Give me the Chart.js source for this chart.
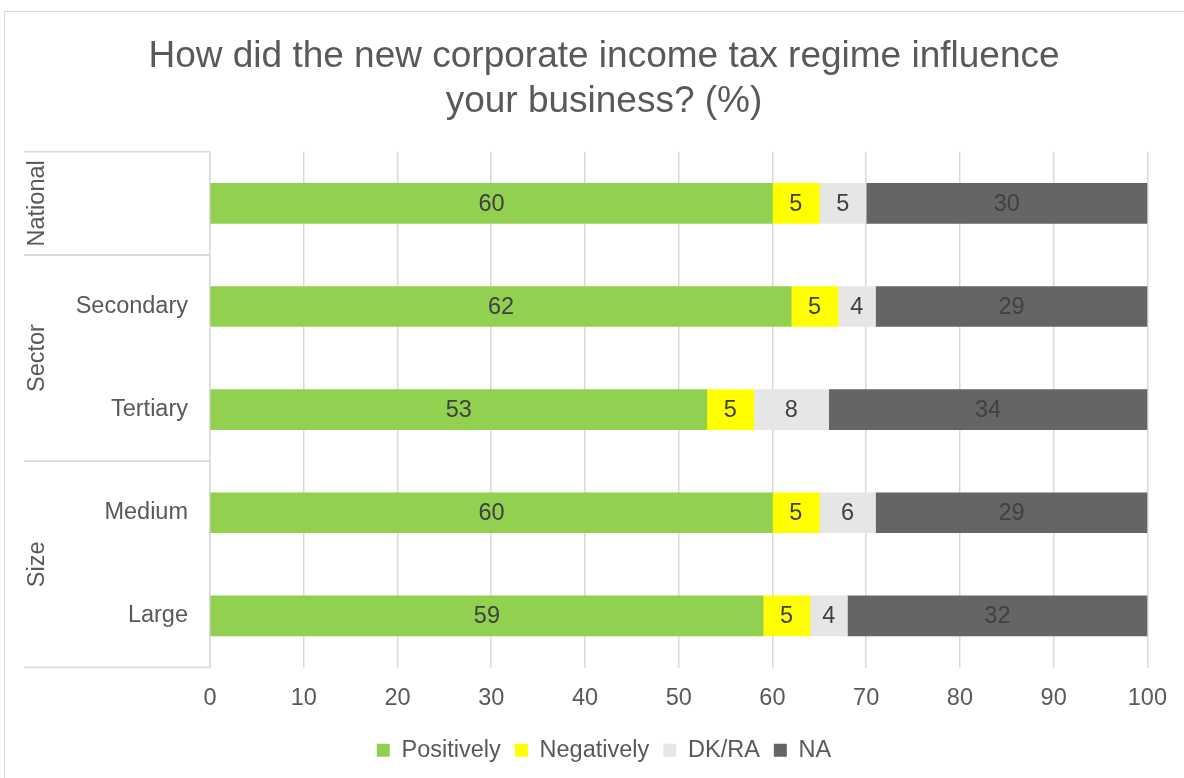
<!DOCTYPE html>
<html lang="en">
<head>
  <meta charset="UTF-8">
  <title>Corporate income tax regime</title>
  <style>
    body {
      margin: 0;
      background-color: #fff;
      overflow: hidden;
    }

    .frame {
      position: absolute;
      left: 4px;
      top: 11px;
      width: 1200px;
      height: 800px;
      border: 1px solid #d9d9d9;
    }

    .wrap {
      position: absolute;
      left: 0;
      top: 0;
      width: 1184px;
      height: 778px;
    }
  </style>
</head>
<body>
  <div class="frame"></div>
  <div class="wrap">
    <canvas id="myChart" width="1184" height="778"></canvas>
  </div>
  <script src="https://cdn.jsdelivr.net/npm/chart.js"></script>
  <script>
    var groups = ['National', 'Sector', 'Sector', 'Size', 'Size'];
    var categories = ['', 'Secondary', 'Tertiary', 'Medium', 'Large'];
    var positively = [60, 62, 53, 60, 59];
    var negatively = [5, 5, 5, 5, 5];
    var dkra = [5, 4, 8, 6, 4];
    var na = [30, 29, 34, 29, 32];
    var xTicks = [0, 10, 20, 30, 40, 50, 60, 70, 80, 90, 100];

    var fontFamily = '"Liberation Sans", Arial, sans-serif';
    var textColor = '#595959';
    var lineColor = '#d9d9d9';
    var groupColumnLeft = 24;

    // values written in the middle of every segment
    var segmentLabels = {
      id: 'segmentLabels',
      afterDatasetsDraw: function(chart) {
        var ctx = chart.ctx;
        ctx.save();
        ctx.font = '23.5px ' + fontFamily;
        ctx.fillStyle = '#404040';
        ctx.textAlign = 'center';
        ctx.textBaseline = 'middle';
        chart.data.datasets.forEach(function(ds, i) {
          chart.getDatasetMeta(i).data.forEach(function(bar, j) {
            ctx.fillText(ds.data[j], (bar.x + bar.base) / 2, bar.y + 1);
          });
        });
        ctx.restore();
      }
    };

    // outer level of the category axis: group names and separators
    var groupAxis = {
      id: 'groupAxis',
      afterDraw: function(chart) {
        var ctx = chart.ctx;
        var y = chart.scales.y;
        var step = (y.bottom - y.top) / categories.length;
        var left = groupColumnLeft;
        var right = chart.chartArea.left;
        ctx.save();
        ctx.strokeStyle = lineColor;
        ctx.lineWidth = 1.5;
        ctx.font = '23.5px ' + fontFamily;
        ctx.fillStyle = textColor;
        ctx.textAlign = 'center';
        ctx.textBaseline = 'middle';

        var start = 0;
        for (var i = 1; i <= groups.length; i++) {
          if (i === groups.length || groups[i] !== groups[start]) {
            var top = y.top + start * step;
            var bottom = y.top + i * step;
            ctx.beginPath();
            ctx.moveTo(left, top);
            ctx.lineTo(right, top);
            ctx.moveTo(left, bottom);
            ctx.lineTo(right, bottom);
            ctx.stroke();

            ctx.save();
            ctx.translate(left + 14, (top + bottom) / 2);
            ctx.rotate(-Math.PI / 2);
            ctx.fillText(groups[start], 0, 0);
            ctx.restore();
            start = i;
          }
        }
        ctx.restore();
      }
    };

    var ctx = document.getElementById('myChart').getContext('2d');
    var myChart = new Chart(ctx, {
      type: 'bar',
      data: {
        labels: categories,
        datasets: [{
          label: 'Positively',
          data: positively,
          backgroundColor: '#92d050'
        }, {
          label: 'Negatively',
          data: negatively,
          backgroundColor: '#ffff00'
        }, {
          label: 'DK/RA',
          data: dkra,
          backgroundColor: '#e7e6e6'
        }, {
          label: 'NA',
          data: na,
          backgroundColor: '#656565'
        }]
      },
      options: {
        indexAxis: 'y',
        responsive: false,
        animation: false,
        events: [],
        barThickness: 40,
        layout: {
          padding: { left: 60, right: 36, top: 0, bottom: 6 }
        },
        scales: {
          x: {
            stacked: true,
            min: 0,
            max: 100,
            afterBuildTicks: function(scale) {
              scale.ticks = xTicks.map(function(v) { return { value: v }; });
            },
            afterFit: function(scale) {
              scale.height = 57;
            },
            grid: { color: lineColor, lineWidth: 1.5, drawTicks: false },
            border: { display: false },
            ticks: {
              padding: 17,
              color: textColor,
              font: { family: fontFamily, size: 23.5 }
            }
          },
          y: {
            stacked: true,
            afterFit: function(scale) {
              scale.width = 150;
            },
            grid: { display: false, drawTicks: false },
            border: { display: true, color: lineColor, width: 1.5 },
            ticks: {
              padding: 22,
              color: textColor,
              font: { family: fontFamily, size: 23.5 }
            }
          }
        },
        plugins: {
          title: {
            display: true,
            text: ['How did the new corporate income tax regime influence', 'your business? (%)'],
            color: textColor,
            font: { family: fontFamily, size: 37, weight: 'normal', lineHeight: 1.2 },
            padding: { top: 35, bottom: 28 }
          },
          legend: {
            position: 'bottom',
            labels: {
              boxWidth: 13,
              boxHeight: 13,
              padding: 14,
              color: textColor,
              font: { family: fontFamily, size: 23.5 }
            }
          },
          tooltip: { enabled: false }
        }
      },
      plugins: [segmentLabels, groupAxis]
    });
  </script>
</body>
</html>
